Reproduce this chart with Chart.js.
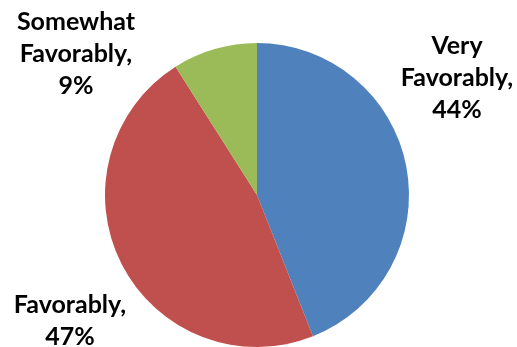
<!DOCTYPE html>
<html><head><meta charset="utf-8">
<script src="https://cdn.jsdelivr.net/npm/chart.js@4/dist/chart.umd.min.js"></script>
<style>html,body{margin:0;padding:0;background:#fff}#wrap{width:517px;height:347px}</style>
</head><body><div id="wrap"><canvas id="c" width="517" height="347"></canvas></div>
<script>
const categories = ["Very Favorably", "Favorably", "Somewhat Favorably"];
const values = [44, 47, 9];
const colors = ["#4F81BD", "#C0504D", "#9BBB59"];

// label anchor (center x, first line center y) per slice — layout only
const labelPos = [[457, 46], [70, 305], [76, 22]];

const labelPlugin = {
  id: 'outLabels',
  afterDraw(chart) {
    const ctx = chart.ctx;
    ctx.save();
    ctx.fillStyle = '#000';
    ctx.font = 'bold 25px Lato';
    ctx.textAlign = 'center';
    ctx.textBaseline = 'middle';
    categories.forEach((cat, i) => {
      const words = cat.split(' ');
      const lines = words.length > 1 ? [words.slice(0, -1).join(' '), words[words.length-1] + ','] : [cat + ','];
      lines.push(values[i] + '%');
      const [x, y] = labelPos[i];
      lines.forEach((l, k) => ctx.fillText(l, x, y + k * 32));
    });
    ctx.restore();
  }
};

new Chart(document.getElementById('c'), {
  type: 'pie',
  data: { labels: categories, datasets: [{ data: values, backgroundColor: colors, borderWidth: 0 }] },
  options: {
    responsive: false, animation: false,
    layout: { padding: { top: 43, bottom: 0, left: 0, right: 3 } },
    plugins: { legend: { display: false }, tooltip: { enabled: false } }
  },
  plugins: [labelPlugin]
});
</script></body></html>
